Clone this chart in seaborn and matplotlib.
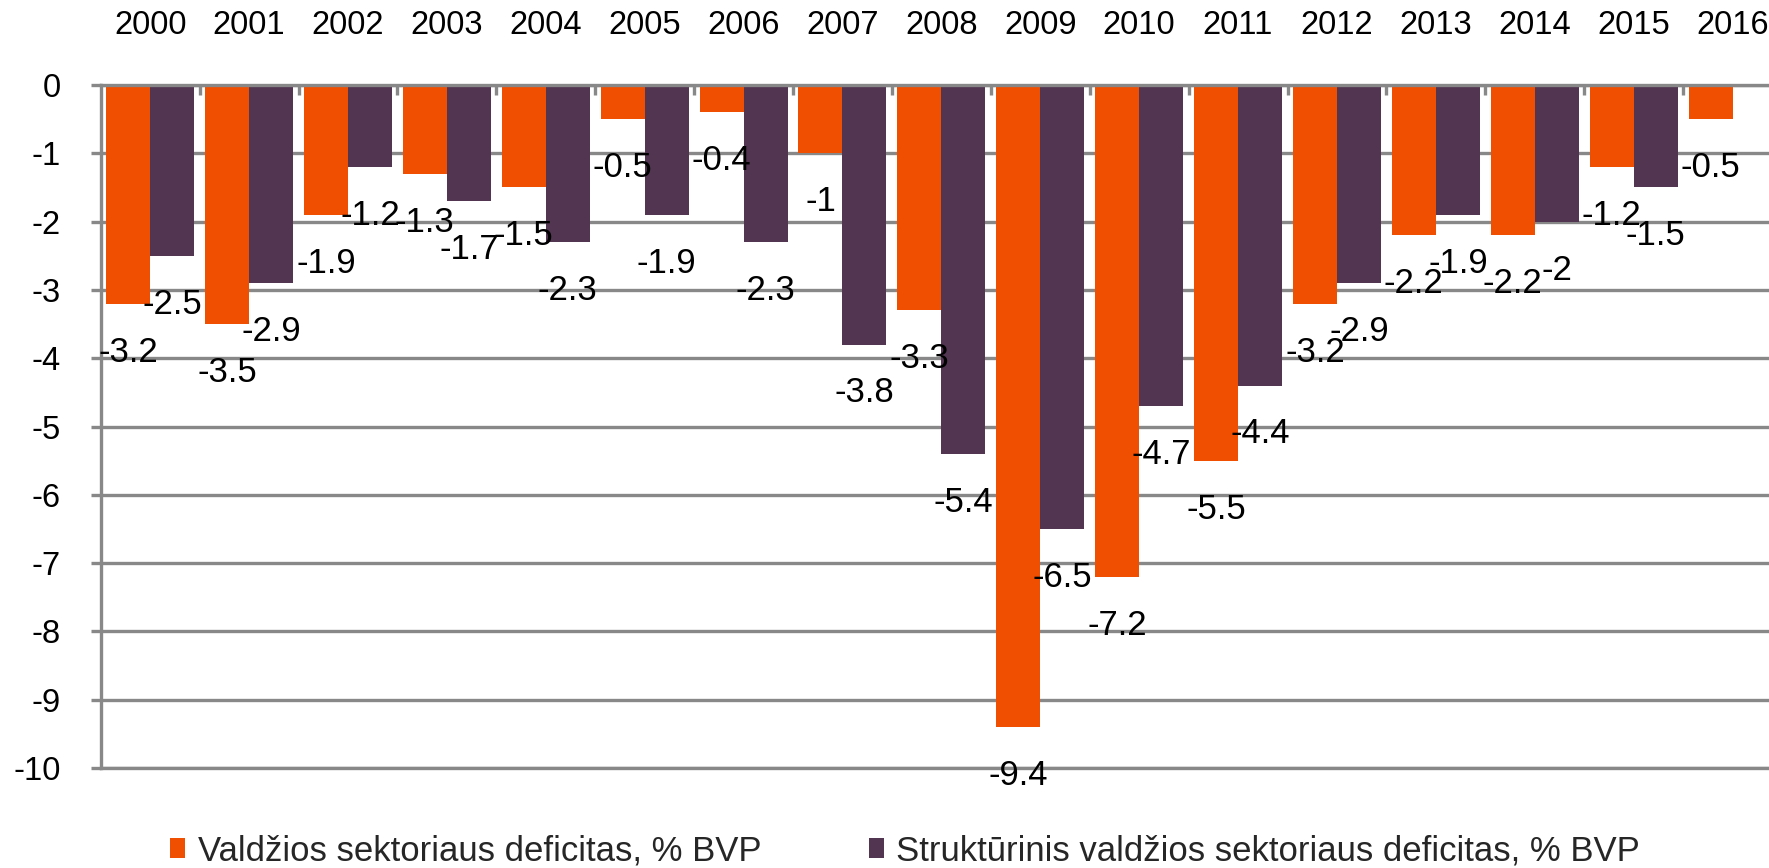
import numpy as np
import pandas as pd
import matplotlib
matplotlib.use("Agg")
import matplotlib.pyplot as plt
import seaborn as sns
from matplotlib.ticker import FixedLocator

years = ["2000", "2001", "2002", "2003", "2004", "2005", "2006", "2007", "2008",
         "2009", "2010", "2011", "2012", "2013", "2014", "2015", "2016"]
valdzios = [-3.2, -3.5, -1.9, -1.3, -1.5, -0.5, -0.4, -1.0, -3.3,
            -9.4, -7.2, -5.5, -3.2, -2.2, -2.2, -1.2, -0.5]
strukturinis = [-2.5, -2.9, -1.2, -1.7, -2.3, -1.9, -2.3, -3.8, -5.4,
                -6.5, -4.7, -4.4, -2.9, -1.9, -2.0, -1.5, np.nan]
series_names = ["Valdžios sektoriaus deficitas, % BVP",
                "Struktūrinis valdžios sektoriaus deficitas, % BVP"]
colors = ["#F04E00", "#513551"]
yticks = [0, -1, -2, -3, -4, -5, -6, -7, -8, -9, -10]

df = pd.DataFrame({
    "year": years * 2,
    "series": [series_names[0]] * len(years) + [series_names[1]] * len(years),
    "value": valdzios + strukturinis,
}).dropna()

sns.set_style("white")
plt.rcParams["font.family"] = ["Liberation Sans", "DejaVu Sans"]
plt.rcParams["axes.unicode_minus"] = False

GRAY = "#888888"
LW = 2.4

fig = plt.figure(figsize=(17.69, 8.68), dpi=100)
ax = fig.add_axes([100.7 / 1769, 1 - 768 / 868, 1681.3 / 1769, 683 / 868])

sns.barplot(data=df, x="year", y="value", hue="series", order=years,
            hue_order=series_names, palette=colors, width=0.89, gap=0,
            saturation=1, errorbar=None, linewidth=0, ax=ax)

ax.set_ylim(-10, 0)
ax.set_xlim(-0.5, len(years) - 0.5)
ax.set_yticks(yticks)
ax.set_yticklabels([f"{t:g}" for t in yticks])
ax.set_xlabel("")
ax.set_ylabel("")

# x axis on top
ax.xaxis.tick_top()
ax.tick_params(axis="x", which="major", length=0, pad=32, labelsize=23.5,
               labelcolor="black")
ax.xaxis.set_minor_locator(FixedLocator(np.arange(0.5, len(years) - 0.5, 1)))
ax.tick_params(axis="x", which="minor", top=True, bottom=False,
               direction="in", length=7.5, width=LW, color=GRAY)
ax.tick_params(axis="y", which="major", left=True, direction="out", length=7.2,
               width=LW, color=GRAY, pad=21.5, labelsize=23.5, labelcolor="black")

ax.yaxis.grid(True, color=GRAY, linewidth=LW)
ax.xaxis.grid(False)
ax.set_axisbelow(True)

for side in ["top", "left", "bottom"]:
    ax.spines[side].set_visible(True)
    ax.spines[side].set_color(GRAY)
    ax.spines[side].set_linewidth(LW)
ax.spines["right"].set_visible(False)

for cont in ax.containers:
    ax.bar_label(cont, fmt="{:g}", padding=23, fontsize=25, color="black")

handles, labels = ax.get_legend_handles_labels()
if ax.get_legend() is not None:
    ax.get_legend().remove()
fig.legend(handles, labels, ncol=2, loc="center",
           bbox_to_anchor=(905 / 1769, 1 - 851 / 868), frameon=False,
           fontsize=25, handlelength=0.43, handleheight=0.52,
           handletextpad=0.35, columnspacing=3.1, borderpad=0, borderaxespad=0)

fig.savefig("out.png", dpi=100)
